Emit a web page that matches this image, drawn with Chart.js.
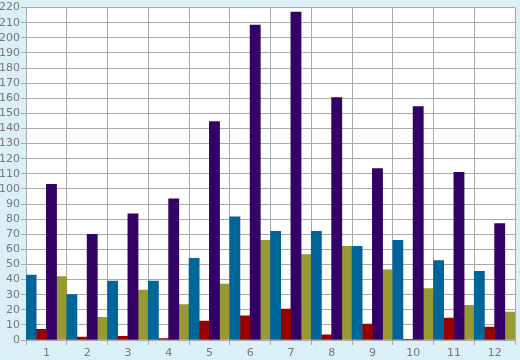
<!DOCTYPE html>
<html>
<head>
<meta charset="utf-8">
<script src="https://cdn.jsdelivr.net/npm/chart.js@4/dist/chart.umd.min.js"></script>
<style>
  html, body { margin: 0; padding: 0; background: #daeff6; }
  #wrap { width: 520px; height: 360px; position: relative; }
</style>
</head>
<body>
<div id="wrap"><canvas id="chart" width="520" height="360"></canvas></div>
<script>
// data
const months = ['1','2','3','4','5','6','7','8','9','10','11','12'];
const blueVals   = [43, 30, 39, 39, 54, 81.5, 72, 72, 62, 66, 52.5, 45.5];
const redVals    = [7, 2, 2.5, 1, 12.5, 16, 20.5, 3.5, 10.5, 0.5, 14.5, 8.5];
const purpleVals = [103, 70, 83.5, 93.5, 144.5, 208.5, 217, 160.5, 113.5, 154.5, 111, 77];
const oliveVals  = [42, 15, 33, 23.5, 37, 66, 56.5, 62, 46.5, 34, 23, 18.5];

const gridColor = '#aaaaaa';
const textColor = '#777777';

// paints the white plot area behind the grid
const plotBg = {
    id: 'plotBg',
    beforeDraw(chart) {
        const a = chart.chartArea, ctx = chart.ctx;
        ctx.save();
        ctx.fillStyle = '#ffffff';
        ctx.fillRect(a.left, a.top, a.right - a.left, a.bottom - a.top);
        ctx.restore();
    }
};

new Chart(document.getElementById('chart').getContext('2d'), {
    type: 'bar',
    data: {
        labels: months,
        datasets: [
            { data: blueVals,   backgroundColor: '#006699' },
            { data: redVals,    backgroundColor: '#990000' },
            { data: purpleVals, backgroundColor: '#330066' },
            { data: oliveVals,  backgroundColor: '#999933' }
        ]
    },
    options: {
        responsive: false,
        animation: false,
        layout: { padding: { top: 5, right: 5, left: 0, bottom: 0 } },
        datasets: { bar: { categoryPercentage: 1, barPercentage: 1 } },
        plugins: { legend: { display: false }, tooltip: { enabled: false } },
        scales: {
            x: {
                grid: { color: gridColor, lineWidth: 1, tickLength: 5, offset: true },
                border: { color: gridColor },
                ticks: { color: textColor, font: { family: 'DejaVu Sans', size: 11 }, padding: 2, autoSkip: false, maxRotation: 0 },
                afterFit(s) { s.height = 20; }
            },
            y: {
                min: 0, max: 220,
                grid: { color: gridColor, lineWidth: 1, tickLength: 5 },
                border: { color: gridColor },
                ticks: { stepSize: 10, autoSkip: false, color: textColor, font: { family: 'DejaVu Sans', size: 11 }, padding: 1 },
                afterFit(s) { s.width = 26; }
            }
        }
    },
    plugins: [plotBg]
});
</script>
</body>
</html>
